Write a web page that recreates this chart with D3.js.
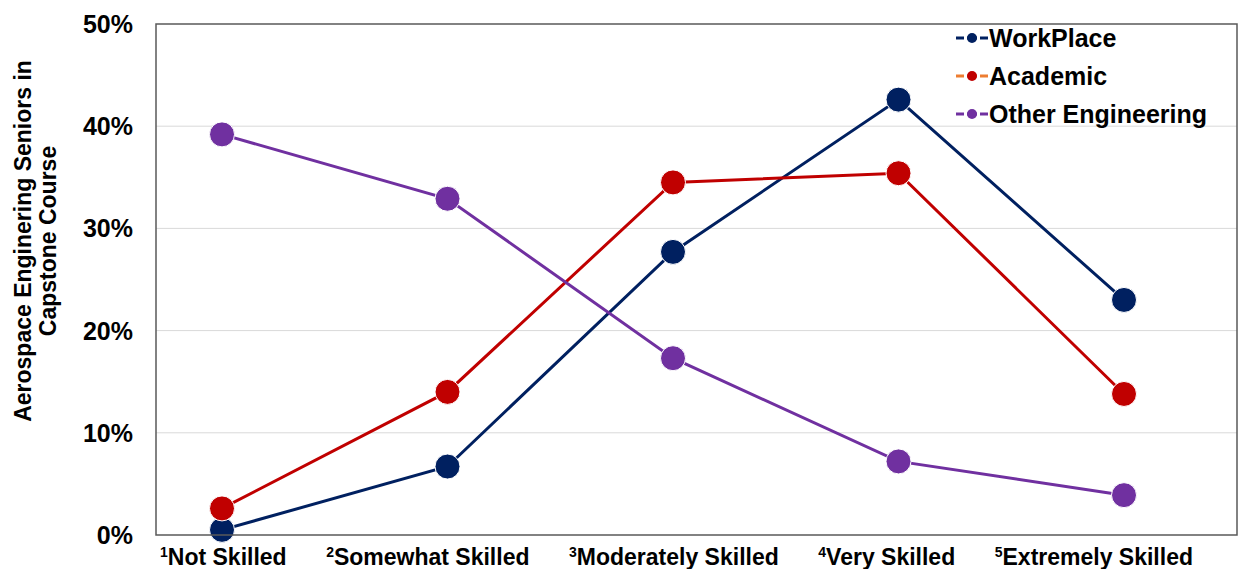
<!DOCTYPE html>
<html>
<head>
<meta charset="utf-8">
<script src="https://cdn.jsdelivr.net/npm/d3@7"></script>
<style>
  body { margin: 0; background: #fff; }
  text { font-family: "Liberation Sans", Arial, sans-serif; font-weight: bold; fill: #000; }
</style>
</head>
<body>
<script>
// chart data
var categories = ["Not Skilled", "Somewhat Skilled", "Moderately Skilled", "Very Skilled", "Extremely Skilled"];
var workplace = [0.5, 6.7, 27.7, 42.6, 23.0];
var academic = [2.6, 14.0, 34.5, 35.4, 13.8];
var otherEng = [39.2, 32.9, 17.3, 7.2, 3.9];
var yTicks = [0, 10, 20, 30, 40, 50];

var series = [
  {name: "WorkPlace", values: workplace, color: "#002060", key: "#002060"},
  {name: "Academic", values: academic, color: "#C00000", key: "#ED7D31"},
  {name: "Other Engineering", values: otherEng, color: "#7030A0", key: "#7030A0"}
];

var W = 1239, H = 569;
var plot = {left: 156, top: 24, right: 1237, bottom: 535};

var svg = d3.select("body").append("svg")
  .attr("width", W)
  .attr("height", H);

var x = d3.scalePoint()
  .domain(d3.range(categories.length))
  .range([222, 1124]);
var y = d3.scaleLinear()
  .domain([0, 50])
  .range([plot.bottom, plot.top]);

// gridlines
svg.append("g").selectAll("line")
  .data(yTicks.filter(function (d) { return d > 0 && d < 50; }))
  .enter().append("line")
  .attr("x1", plot.left).attr("x2", plot.right)
  .attr("y1", function (d) { return y(d); })
  .attr("y2", function (d) { return y(d); })
  .attr("stroke", "#d9d9d9")
  .attr("stroke-width", 1);

// y tick labels
svg.append("g").selectAll("text")
  .data(yTicks)
  .enter().append("text")
  .attr("x", 133)
  .attr("y", function (d) { return y(d) + 9; })
  .attr("text-anchor", "end")
  .style("font-size", "25px")
  .text(function (d) { return d + "%"; });

// x category labels: a single row of text under the plot, like a text box
var xl = svg.append("g").selectAll("text")
  .data(categories)
  .enter().append("text")
  .attr("y", 565)
  .style("font-size", "23px");
xl.append("tspan")
  .attr("dy", -8)
  .style("font-size", "14px")
  .text(function (d, i) { return i + 1; });
xl.append("tspan")
  .attr("dy", 8)
  .text(function (d) { return d; });

var rowStart = 160, rowEnd = 1193;
var widths = xl.nodes().map(function (n) { return n.getComputedTextLength(); });
var gap = (rowEnd - rowStart - d3.sum(widths)) / (categories.length - 1);
var cursor = rowStart;
xl.attr("x", function (d, i) {
  var pos = cursor;
  cursor += widths[i] + gap;
  return pos;
});

// y axis title
var yt = svg.append("text")
  .attr("transform", "translate(31,241) rotate(-90)")
  .attr("text-anchor", "middle")
  .style("font-size", "23px");
yt.append("tspan").attr("x", 0).attr("dy", 0).text("Aerospace Enginering Seniors in");
yt.append("tspan").attr("x", 0).attr("dy", 25).text("Capstone Course");

// lines and markers
var line = d3.line()
  .x(function (d, i) { return x(i); })
  .y(function (d) { return y(d); });

var groups = svg.append("g").selectAll("g")
  .data(series)
  .enter().append("g");

groups.append("path")
  .attr("d", function (d) { return line(d.values); })
  .attr("fill", "none")
  .attr("stroke", function (d) { return d.color; })
  .attr("stroke-width", 3);

groups.selectAll("circle")
  .data(function (d) { return d.values.map(function (v) { return {v: v, c: d.color}; }); })
  .enter().append("circle")
  .attr("cx", function (d, i) { return x(i); })
  .attr("cy", function (d) { return y(d.v); })
  .attr("r", 12.5)
  .attr("fill", function (d) { return d.c; })
  .attr("stroke", "#fff")
  .attr("stroke-width", 1);

// legend
var lg = svg.append("g").selectAll("g")
  .data(series)
  .enter().append("g")
  .attr("transform", function (d, i) { return "translate(956," + (38 + i * 38) + ")"; });
lg.append("line")
  .attr("x1", 0).attr("x2", 32)
  .attr("y1", 0).attr("y2", 0)
  .attr("stroke", function (d) { return d.key; })
  .attr("stroke-width", 3)
  .attr("stroke-dasharray", "8,3,10,3,8");
lg.append("circle")
  .attr("cx", 16).attr("cy", 0).attr("r", 5)
  .attr("fill", function (d) { return d.color; });
lg.append("text")
  .attr("x", 33)
  .attr("y", 9)
  .style("font-size", "25px")
  .text(function (d) { return d.name; });

// plot border
svg.append("rect")
  .attr("x", plot.left).attr("y", plot.top)
  .attr("width", plot.right - plot.left)
  .attr("height", plot.bottom - plot.top)
  .attr("fill", "none")
  .attr("stroke", "#595959")
  .attr("stroke-width", 1.5);
</script>
</body>
</html>
